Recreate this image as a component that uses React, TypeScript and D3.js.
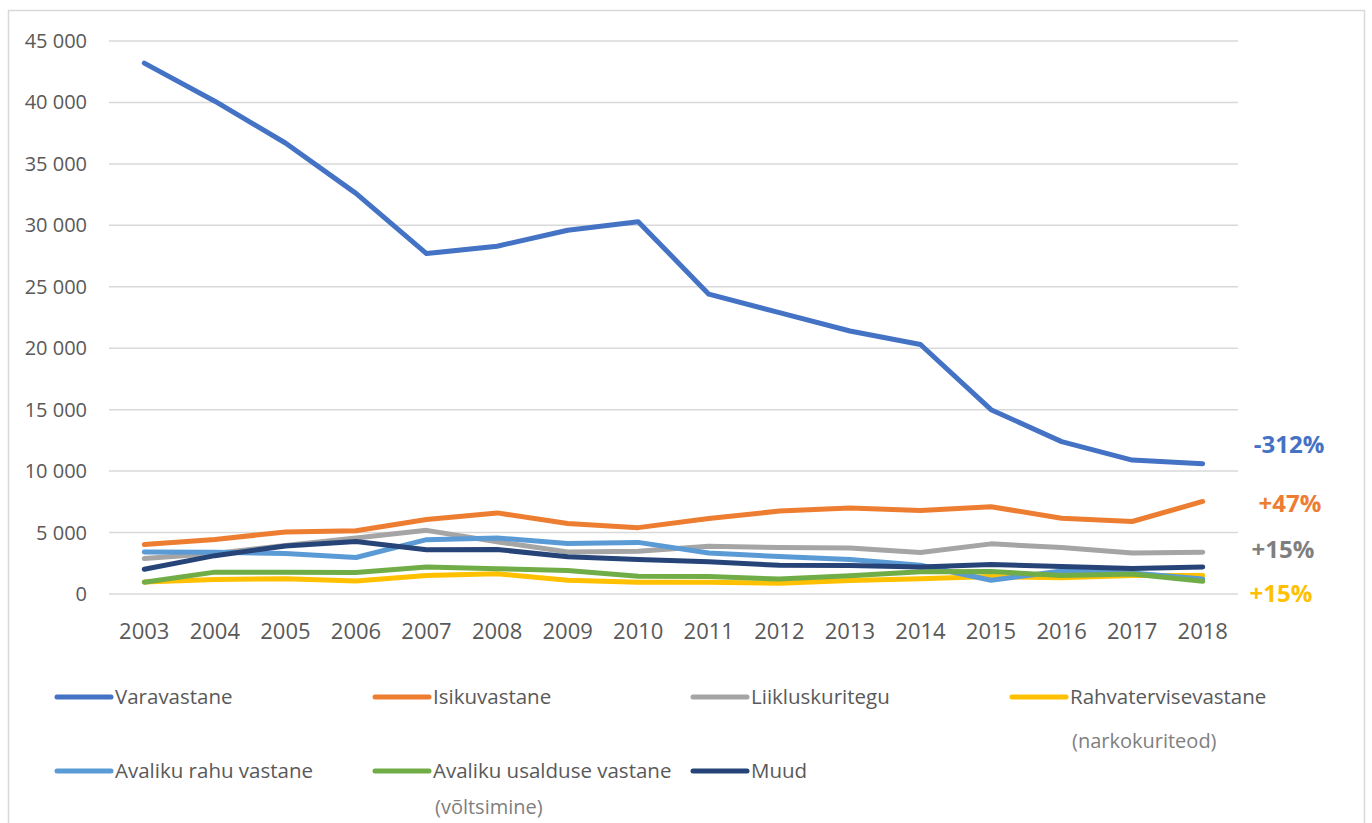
import React from "react";
import * as d3 from "d3";

// Registered offences by type, 2003–2018
const years = [2003, 2004, 2005, 2006, 2007, 2008, 2009, 2010, 2011, 2012, 2013, 2014, 2015, 2016, 2017, 2018];

const varavastane = [43200, 40100, 36700, 32600, 27700, 28300, 29600, 30300, 24400, 22900, 21400, 20300, 15000, 12400, 10900, 10600];
const isikuvastane = [4030, 4430, 5050, 5140, 6060, 6600, 5730, 5400, 6150, 6750, 7000, 6800, 7100, 6170, 5900, 7530];
const liikluskuritegu = [2880, 3300, 3950, 4550, 5180, 4250, 3420, 3480, 3880, 3780, 3750, 3370, 4080, 3780, 3330, 3400];
const rahvatervisevastane = [980, 1170, 1250, 1060, 1500, 1650, 1110, 950, 950, 880, 1090, 1250, 1420, 1320, 1500, 1500];
const avalikuRahuVastane = [3420, 3400, 3300, 2970, 4420, 4560, 4100, 4200, 3340, 3050, 2800, 2340, 1120, 1880, 1700, 1220];
const avalikuUsalduseVastane = [960, 1780, 1760, 1750, 2200, 2060, 1920, 1450, 1420, 1220, 1480, 1820, 1830, 1500, 1630, 1030];
const muud = [2020, 3120, 3900, 4280, 3600, 3620, 3030, 2800, 2620, 2330, 2320, 2200, 2400, 2240, 2070, 2200];

const yTicks = [0, 5000, 10000, 15000, 20000, 25000, 30000, 35000, 40000, 45000];

const seriesNames = [
  "Varavastane",
  "Isikuvastane",
  "Liikluskuritegu",
  "Rahvatervisevastane",
  "Avaliku rahu vastane",
  "Avaliku usalduse vastane",
  "Muud",
];
const seriesSubtitles = ["", "", "", "(narkokuriteod)", "", "(võltsimine)", ""];
const seriesValues = [
  varavastane,
  isikuvastane,
  liikluskuritegu,
  rahvatervisevastane,
  avalikuRahuVastane,
  avalikuUsalduseVastane,
  muud,
];
const seriesColors = ["#4472C4", "#ED7D31", "#A5A5A5", "#FFC000", "#5B9BD5", "#70AD47", "#264478"];

// Change annotations on the right
const changeLabels = ["-312%", "+47%", "+15%", "+15%"];
const changeColors = ["#4472C4", "#ED7D31", "#7F7F7F", "#FFC000"];

const W = 1372;
const H = 823;
const FONT = "'Open Sans', 'Noto Sans', sans-serif";

export default function App() {
  const x = d3
    .scalePoint<number>()
    .domain(years)
    .range([109, 1238])
    .padding(0.5);
  const y = d3.scaleLinear().domain([0, 45000]).range([594, 41]);

  const line = d3
    .line<number>()
    .x((_, i) => x(years[i]) as number)
    .y((d) => y(d));

  const fmt = (v: number) => d3.format(",")(v).replace(/,/g, " ");

  // legend layout: 4 columns, 2 rows
  const legendCols = [57, 375, 693, 1012];
  const legendRows = [697, 771];
  const subtitleOffsets = [44, 36];

  const changeY = [445, 504, 550, 594];
  const changeX = [1289, 1290, 1283, 1281];

  return (
    <svg
      width={W}
      height={H}
      style={{ position: "absolute", left: 0, top: 0, background: "#fff" }}
      fontFamily={FONT}
    >
      <rect x={8.5} y={10.5} width={1356} height={830} fill="#fff" stroke="#d9d9d9" strokeWidth={1.5} />

      {/* gridlines */}
      {yTicks.map((t) => (
        <line key={t} x1={109} x2={1238} y1={y(t)} y2={y(t)} stroke="#d9d9d9" strokeWidth={1.5} />
      ))}

      {/* y-axis labels */}
      {yTicks.map((t) => (
        <text
          key={"l" + t}
          x={87}
          y={y(t)}
          dy="0.35em"
          textAnchor="end"
          fontSize={20}
          fill="#595959"
        >
          {fmt(t)}
        </text>
      ))}

      {/* x-axis labels */}
      {years.map((yr) => (
        <text
          key={yr}
          x={x(yr) as number}
          y={631}
          dy="0.35em"
          textAnchor="middle"
          fontSize={22}
          fill="#595959"
        >
          {yr}
        </text>
      ))}

      {/* series lines */}
      {seriesValues.map((vals, i) => (
        <path
          key={seriesNames[i]}
          d={line(vals) || ""}
          fill="none"
          stroke={seriesColors[i]}
          strokeWidth={5}
          strokeLinecap="round"
          strokeLinejoin="round"
        />
      ))}

      {/* change annotations */}
      {changeLabels.map((lbl, i) => (
        <text
          key={"c" + i}
          x={changeX[i]}
          y={changeY[i]}
          dy="0.35em"
          textAnchor="middle"
          fontSize={24}
          fontWeight="bold"
          fill={changeColors[i]}
        >
          {lbl}
        </text>
      ))}

      {/* legend */}
      {seriesNames.map((name, i) => {
        const col = i % 4;
        const row = Math.floor(i / 4);
        const lx = legendCols[col];
        const ly = legendRows[row];
        return (
          <g key={"lg" + i}>
            <line
              x1={lx}
              x2={lx + 54}
              y1={ly}
              y2={ly}
              stroke={seriesColors[i]}
              strokeWidth={5}
              strokeLinecap="round"
            />
            <text x={lx + 58} y={ly} dy="0.35em" fontSize={20.5} fill="#595959">
              {name}
            </text>
            {seriesSubtitles[i] && (
              <text x={lx + 60} y={ly + subtitleOffsets[row]} dy="0.35em" fontSize={20} fill="#808080">
                {seriesSubtitles[i]}
              </text>
            )}
          </g>
        );
      })}
    </svg>
  );
}
